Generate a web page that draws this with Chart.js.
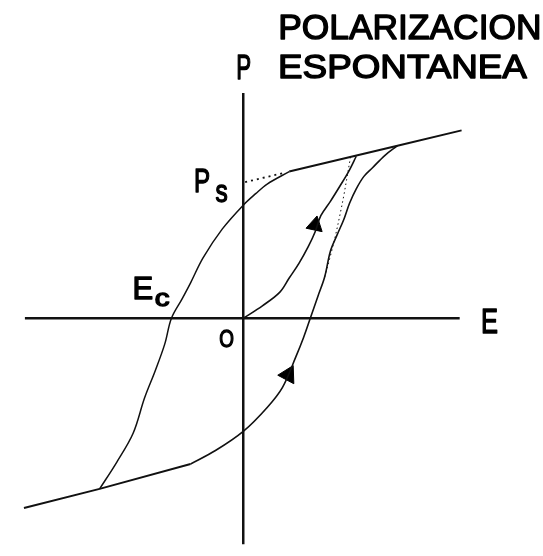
<!DOCTYPE html>
<html>
<head>
<meta charset="utf-8">
<title>Polarizacion espontanea</title>
<script src="https://cdn.jsdelivr.net/npm/chart.js@4/dist/chart.umd.min.js"></script>
<style>
  html, body { margin: 0; padding: 0; background: #fff; }
  #wrap { width: 543px; height: 556px; position: relative; }
</style>
</head>
<body>
<div id="wrap"><canvas id="loop_canvas"></canvas></div>
<script>
// ciclo de histeresis: E horizontal, P vertical (unidades arbitrarias)

// rama descendente, desde el codo superior hasta la punta inferior
var upperE = [4.8, 2.5, 1.3, 0, -2.2, -4.2, -5.5, -6.4, -7.5, -8.2, -9.2, -10.3, -11.5, -13.2, -15.0];
var upperP = [15.3, 14.0, 13.0, 11.8, 9.3, 6.3, 3.7, 2.0, 0, -2.7, -5.5, -8.3, -12.0, -15.0, -17.8];

// rama ascendente, desde el codo inferior hasta la punta superior
var lowerE = [-5.5, -2.9, 0, 2.5, 4.1, 5.5, 6.3, 7.0, 7.8, 8.5, 9.1, 9.8, 10.5, 11.1, 11.8, 12.6, 13.5, 14.8, 16.1];
var lowerP = [-15.2, -13.8, -11.8, -9.3, -7.2, -4.0, -2.0, 0, 2.3, 4.3, 7.0, 8.7, 10.3, 12.0, 13.5, 14.8, 15.7, 17.0, 18.0];

// curva de primera polarizacion desde el origen
var firstE = [0, 2.0, 3.8, 4.8, 5.8, 6.8, 7.5, 8.1, 9.1, 10.1, 11.0, 11.8];
var firstP = [0, 1.3, 2.7, 4.2, 5.7, 7.5, 9.0, 10.7, 12.2, 13.8, 15.3, 16.9];

// trazo tenue junto a la rama ascendente
var faintE = [8.5, 9.1, 9.6, 10.1, 10.5, 10.8, 11.2];
var faintP = [4.3, 6.5, 8.5, 10.8, 12.8, 14.5, 16.8];

// tramos rectos de saturacion
var satHighE = [4.8, 16.1, 22.8];
var satHighP = [15.3, 18.0, 19.6];
var satLowE = [-22.9, -15.0, -5.5];
var satLowP = [-19.8, -17.8, -15.2];

// extrapolacion hasta el eje P (Ps)
var psE = [0.2, 4.4];
var psP = [14.2, 15.2];

// flechas: posicion, tamano y giro
var arrowE = [7.5, 4.7];
var arrowP = [9.7, -5.9];
var arrowSize = [9.5, 10.5];
var arrowRot = [12, 268];

// ejes
var axisEx = [-22.8, 22.6];
var axisPy = [23.5, -23.6];

function pts(xs, ys){
    var out = [];
    for(var i = 0; i < xs.length; i++){
        out.push({x: xs[i], y: ys[i]});
    }
    return out;
}

function curve(xs, ys, width, dash, tension){
    return {
        data: pts(xs, ys),
        showLine: true,
        borderColor: '#111',
        borderWidth: width,
        borderDash: dash || [],
        pointRadius: 0,
        tension: tension,
        fill: false
    };
}

function arrow(i){
    return {
        data: [{x: arrowE[i], y: arrowP[i]}],
        showLine: false,
        pointStyle: 'triangle',
        pointRadius: arrowSize[i],
        pointRotation: arrowRot[i],
        backgroundColor: '#000',
        borderColor: '#000',
        borderWidth: 1
    };
}

// ajusta la tinta de un texto a una caja
function fitText(ctx, str, x0, y0, x1, y1){
    ctx.font = '100px "Liberation Sans"';
    var m = ctx.measureText(str);
    var inkW = m.actualBoundingBoxLeft + m.actualBoundingBoxRight;
    var inkH = m.actualBoundingBoxAscent + m.actualBoundingBoxDescent;
    var sy = (y1 - y0) / inkH;
    ctx.save();
    ctx.translate(x0, y0);
    ctx.scale((x1 - x0) / inkW, sy);
    ctx.lineWidth = 1.4 / sy;
    ctx.lineJoin = 'round';
    ctx.fillText(str, m.actualBoundingBoxLeft, m.actualBoundingBoxAscent);
    ctx.strokeText(str, m.actualBoundingBoxLeft, m.actualBoundingBoxAscent);
    ctx.restore();
}

var labels_plugin = {
    id: 'labels_plugin',
    afterDraw: function(chart){
        var ctx = chart.ctx;
        ctx.save();
        ctx.fillStyle = '#000';
        ctx.strokeStyle = '#000';
        ctx.textBaseline = 'alphabetic';
        ctx.textAlign = 'left';
        fitText(ctx, 'POLARIZACION', 281, 14, 539, 39);
        fitText(ctx, 'ESPONTANEA', 281, 54, 527, 78);
        fitText(ctx, 'P', 238, 55, 250, 79);
        fitText(ctx, 'E', 483, 309, 497, 333);
        fitText(ctx, 'P', 196, 169, 209, 192);
        fitText(ctx, 's', 216, 185, 227, 202);
        fitText(ctx, 'E', 135, 278, 152, 299);
        fitText(ctx, 'c', 156, 293, 169, 306);
        fitText(ctx, 'O', 220, 330, 233, 347);
        ctx.restore();
    }
};

function draw_chart(){
    var datasets = [
        curve(axisEx, [0, 0], 2.5, null, 0),
        curve([0, 0], axisPy, 2.5, null, 0),
        curve(satHighE, satHighP, 2, null, 0),
        curve(satLowE, satLowP, 2, null, 0),
        curve(psE, psP, 1.8, [2, 4], 0),
        curve(upperE, upperP, 1.5, null, 0.35),
        curve(lowerE, lowerP, 1.6, null, 0.35),
        curve(firstE, firstP, 1.6, null, 0.35),
        curve(faintE, faintP, 1, [1.5, 3], 0.35),
        arrow(0),
        arrow(1)
    ];

    new Chart(document.getElementById('loop_canvas'), {
        type: 'scatter',
        data: { datasets: datasets },
        options: {
            responsive: true,
            maintainAspectRatio: false,
            animation: false,
            layout: { padding: 0 },
            plugins: {
                legend: { display: false },
                tooltip: { enabled: false },
                title: { display: false }
            },
            scales: {
                x: { type: 'linear', display: false, min: -24.2, max: 30.1 },
                y: { type: 'linear', display: false, min: -23.6, max: 32.0 }
            }
        },
        plugins: [labels_plugin]
    });
}

draw_chart();
</script>
</body>
</html>
